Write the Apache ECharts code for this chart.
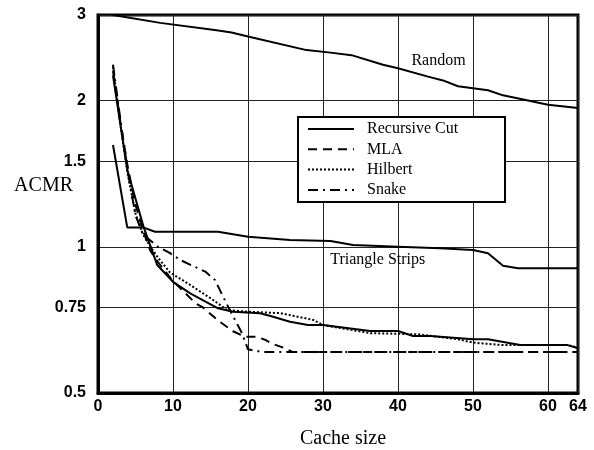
<!DOCTYPE html>
<html>
<head>
<meta charset="utf-8">
<script src="https://cdn.jsdelivr.net/npm/echarts@6/dist/echarts.min.js"></script>
<style>html,body{margin:0;padding:0;background:#fff;}#c{width:594px;height:450px;}</style>
</head>
<body>
<div id="c"></div>
<script>
// ---- data ----
const xTicks = [0, 10, 20, 30, 40, 50, 60, 64];
const yTicks = [0.5, 0.75, 1, 1.5, 2, 3];

const randomX = [2, 8.3, 15.8, 17.8, 20, 27.8, 31, 33.8, 38, 40, 44, 46, 48, 52, 54, 56.7, 60, 64];
const randomY = [3.0, 2.89, 2.79, 2.76, 2.71, 2.54, 2.51, 2.48, 2.37, 2.33, 2.24, 2.2, 2.14, 2.1, 2.05, 2.01, 1.96, 1.93];

const stripX = [2, 3.9, 6, 7.6, 16, 20, 25.6, 31, 34, 40, 45.6, 50, 52, 54, 56, 64];
const stripY = [1.62, 1.096, 1.096, 1.074, 1.074, 1.049, 1.033, 1.028, 1.008, 1.0, 0.993, 0.985, 0.97, 0.914, 0.903, 0.903];

const cutX = [2, 3.9, 6.1, 7.9, 10, 12.3, 16, 18, 21.6, 23, 25.6, 28, 30, 36.3, 40, 42, 44.3, 50, 52, 56.3, 62.5, 64];
const cutY = [2.25, 1.44, 1.096, 0.917, 0.847, 0.802, 0.747, 0.735, 0.73, 0.72, 0.701, 0.69, 0.69, 0.671, 0.671, 0.655, 0.655, 0.645, 0.645, 0.628, 0.628, 0.618];

const mlaX = [2, 3, 4, 5, 6, 7, 8, 10, 13, 14, 16, 18, 19.6, 21.2, 22.3, 23.4, 24.7, 26, 64];
const mlaY = [2.3, 1.8, 1.45, 1.22, 1.08, 0.98, 0.93, 0.85, 0.765, 0.75, 0.705, 0.67, 0.653, 0.653, 0.643, 0.63, 0.62, 0.607, 0.607];

const hilbertX = [2, 3, 4, 5, 6, 7, 8, 9.6, 12, 15.2, 17.2, 20, 24.3, 28.7, 30, 36.3, 40, 43, 48, 50, 53.6, 62.5, 64];
const hilbertY = [2.35, 1.78, 1.4, 1.17, 1.06, 1.0, 0.95, 0.885, 0.84, 0.78, 0.741, 0.735, 0.73, 0.707, 0.69, 0.664, 0.662, 0.66, 0.645, 0.635, 0.628, 0.628, 0.62];

const snakeX = [2, 3, 4, 5, 6, 8, 9.6, 11, 12.4, 14.3, 15.6, 16.5, 17.4, 19.2, 20, 22, 64];
const snakeY = [2.37, 1.82, 1.42, 1.16, 1.06, 1.0, 0.97, 0.939, 0.917, 0.889, 0.854, 0.80, 0.75, 0.664, 0.615, 0.607, 0.607];

const annotations = [
  { text: 'Random', x: 45.4, y: 2.42 },
  { text: 'Triangle Strips', x: 37.3, y: 0.94 }
];

const pairs = (xs, ys) => xs.map((x, i) => [x, ys[i]]);

const serif = 'Liberation Serif, Times New Roman, serif';
const sans = 'Liberation Sans, Arial, sans-serif';

function lineSeries(name, xs, ys, type, extra) {
  return Object.assign({
    name: name,
    type: 'line',
    data: pairs(xs, ys),
    symbol: 'none',
    smooth: false,
    lineStyle: { color: '#000', width: 2, type: type },
    itemStyle: { color: '#000' },
    z: 2
  }, extra || {});
}

const chart = echarts.init(document.getElementById('c'), null, { renderer: 'canvas' });
chart.setOption({
  animation: false,
  backgroundColor: '#fff',
  grid: { left: 98, right: 16, top: 15, bottom: 57, outerBoundsMode: 'none', containLabel: false, show: true, borderColor: '#000', borderWidth: 3, backgroundColor: 'transparent' },
  xAxis: {
    type: 'value', min: 0, max: 64, interval: 10,
    name: 'Cache size', nameLocation: 'middle', nameGap: 36, nameMoveOverlap: false,
    nameTextStyle: { fontFamily: serif, fontSize: 20, color: '#000', padding: [0, 0, 0, 10] },
    axisLine: { show: true, lineStyle: { color: '#000', width: 3 } },
    axisTick: { show: false, customValues: xTicks },
    axisLabel: { customValues: xTicks, fontFamily: sans, fontWeight: 'bold', fontSize: 16, color: '#000', margin: 6 },
    splitLine: { show: true, lineStyle: { color: '#222', width: 1 } }
  },
  yAxis: {
    type: 'log', min: 0.5, max: 3, logBase: 10,
    name: 'ACMR', nameLocation: 'middle', nameRotate: 0, nameGap: 25, nameMoveOverlap: false,
    nameTextStyle: { fontFamily: serif, fontSize: 20, color: '#000', verticalAlign: 'bottom', lineHeight: 36 },
    axisLine: { show: true, lineStyle: { color: '#000', width: 3 } },
    axisTick: { show: false, customValues: yTicks },
    axisLabel: { customValues: yTicks, fontFamily: sans, fontWeight: 'bold', fontSize: 16, color: '#000', margin: 12 },
    splitLine: { show: true, lineStyle: { color: '#222', width: 1 } },
    minorSplitLine: { show: false }
  },
  legend: {
    data: ['Recursive Cut', 'MLA', 'Hilbert', 'Snake'],
    orient: 'vertical', left: 307, top: 121, padding: 0,
    itemWidth: 46, itemHeight: 14, itemGap: 4.3,
    itemStyle: { opacity: 0 },
    textStyle: { fontFamily: serif, fontSize: 16, color: '#000', padding: [0, 0, 0, 8], lineHeight: 14 },
    z: 5
  },
  graphic: [{
    type: 'rect', z: 4,
    shape: { x: 298, y: 117, width: 207, height: 85 },
    style: { fill: '#fff', stroke: '#000', lineWidth: 2 }
  }],
  series: [
    lineSeries('Random', randomX, randomY, 'solid', {
      markPoint: {
        symbol: 'circle', symbolSize: 0, silent: true,
        label: { show: true, position: 'inside', color: '#000', fontFamily: serif, fontSize: 16, formatter: p => p.name },
        data: annotations.map(a => ({ name: a.text, coord: [a.x, a.y] }))
      }
    }),
    lineSeries('Triangle Strips', stripX, stripY, 'solid'),
    lineSeries('Recursive Cut', cutX, cutY, 'solid'),
    lineSeries('MLA', mlaX, mlaY, [9, 6]),
    lineSeries('Hilbert', hilbertX, hilbertY, [2, 2]),
    lineSeries('Snake', snakeX, snakeY, [10, 5, 2, 5])
  ]
});
</script>
</body>
</html>
